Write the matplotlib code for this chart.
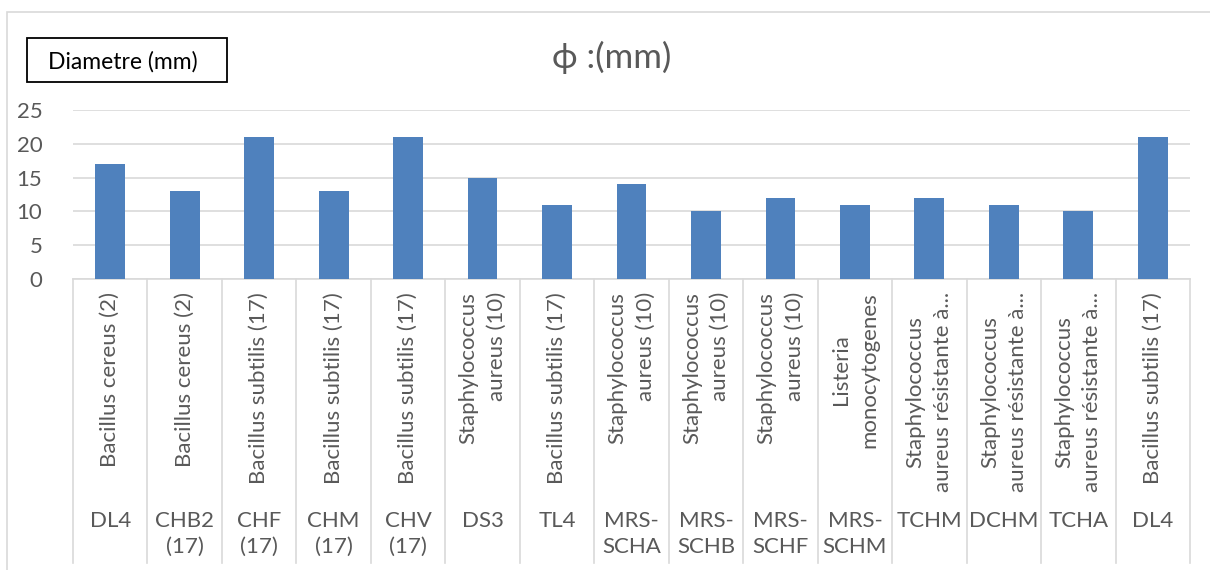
import matplotlib.pyplot as plt
from matplotlib.patches import Rectangle
from matplotlib.transforms import blended_transform_factory

plt.rcParams['font.family'] = ['Lato', 'DejaVu Sans']

souches = ['DL4', 'CHB2\n(17)', 'CHF\n(17)', 'CHM\n(17)', 'CHV\n(17)', 'DS3', 'TL4',
           'MRS-\nSCHA', 'MRS-\nSCHB', 'MRS-\nSCHF', 'MRS-\nSCHM', 'TCHM', 'DCHM', 'TCHA', 'DL4']
cibles = ['Bacillus cereus (2)', 'Bacillus cereus (2)', 'Bacillus subtilis (17)',
          'Bacillus subtilis (17)', 'Bacillus subtilis (17)', 'Staphylococcus\naureus (10)',
          'Bacillus subtilis (17)', 'Staphylococcus\naureus (10)', 'Staphylococcus\naureus (10)',
          'Staphylococcus\naureus (10)', 'Listeria\nmonocytogenes',
          'Staphylococcus\naureus résistante à...', 'Staphylococcus\naureus résistante à...',
          'Staphylococcus\naureus résistante à...', 'Bacillus subtilis (17)']
diametres = [17, 13, 21, 13, 21, 15, 11, 14, 10, 12, 11, 12, 11, 10, 21]

W, H = 1210, 570
fig = plt.figure(figsize=(W / 100, H / 100), dpi=100)
gris = '#595959'
ligne = '#D9D9D9'
taille = 16

# zone de tracé (en pixels)
x0, x1 = 73, 1190
y_haut, y_bas = 110, 279
ax = fig.add_axes([x0 / W, 1 - y_bas / H, (x1 - x0) / W, (y_bas - y_haut) / H])

n = len(diametres)
ax.bar(range(n), diametres, width=0.4, color='#4F81BD', zorder=3)
ax.set_xlim(-0.5, n - 0.5)
ax.set_ylim(0, 25)
ax.set_yticks([0, 5, 10, 15, 20, 25])
ax.yaxis.grid(True, color=ligne, lw=1.2, zorder=0)
ax.tick_params(axis='y', length=0, labelsize=taille, labelcolor=gris, pad=22)
ax.set_xticks([])
for s in ['top', 'right', 'left']:
    ax.spines[s].set_visible(False)
ax.spines['bottom'].set_color(ligne)
ax.spines['bottom'].set_linewidth(1.2)

# axe des catégories à deux niveaux
tr = blended_transform_factory(ax.transData, fig.transFigure)
for i in range(n + 1):
    ax.plot([i - 0.5, i - 0.5], [1 - y_bas / H, 1 - 563 / H], color=ligne, lw=1.2,
            transform=tr, clip_on=False)
for i in range(n):
    ma = 'right' if cibles[i].endswith('(10)') else 'center'
    ax.text(i, 1 - 292 / H, cibles[i], transform=tr, rotation=90, ha='center', va='top',
            multialignment=ma, fontsize=taille, color=gris, linespacing=1.5)
    ax.text(i, 1 - 511 / H, souches[i], transform=tr, ha='center', va='top',
            fontsize=taille, color=gris, linespacing=1.37)

# cadre du graphique
fig.patches.append(Rectangle((7 / W, -0.1), 1.2, 1 - 12 / H + 0.1, transform=fig.transFigure,
                             fill=False, edgecolor=ligne, lw=1.2))

# titre et encadré
fig.text(612 / W, 1 - 57 / H, 'ϕ :(mm)', ha='center', va='center', fontsize=25, color=gris)
fig.patches.append(Rectangle((27 / W, 1 - 82 / H), 200 / W, 44 / H, transform=fig.transFigure,
                             fill=False, edgecolor='black', lw=1.3))
fig.text(48 / W, 1 - 62 / H, 'Diametre (mm)', ha='left', va='center', fontsize=16.5, color='black')

fig.savefig('out.png', dpi=100)
